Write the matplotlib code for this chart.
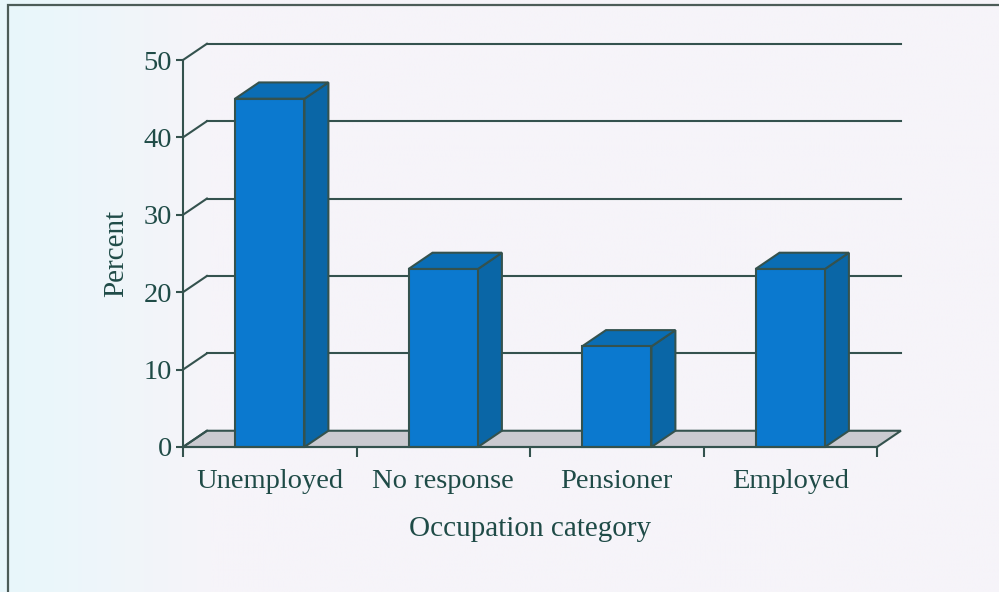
import numpy as np
import matplotlib
matplotlib.use("Agg")
import matplotlib.pyplot as plt
from matplotlib.patches import Polygon, Rectangle

categories = ["Unemployed", "No response", "Pensioner", "Employed"]
percent = [45, 23, 13, 23]
yticks = [0, 10, 20, 30, 40, 50]

ink = "#1f4b47"
edge = "#34524e"
front = "#0b79cf"
side = "#0a66a6"
top = "#0a6db4"
floor = "#cacad0"

# depth of the pseudo-3D box, in data units
dx, dy = 0.138, 2.1
bw = 0.4

plt.rcParams["font.family"] = ["Liberation Serif", "DejaVu Serif"]

fig = plt.figure(figsize=(9.99, 5.92), dpi=100, facecolor="#f6f4f9")

# soft cyan tint down the left edge of the page
bg = fig.add_axes([0, 0, 1, 1], zorder=-10)
grad = np.ones((2, 400, 3))
xs = np.linspace(0, 1, 400)
t = np.clip((xs - 0.01) / 0.2, 0, 1)
c0 = np.array(matplotlib.colors.to_rgb("#e8f7fb"))
c1 = np.array(matplotlib.colors.to_rgb("#f6f4f9"))
grad[:] = (c0[None, :] * (1 - t[:, None]) + c1[None, :] * t[:, None])[None]
bg.imshow(grad, aspect="auto", extent=[0, 1, 0, 1])
bg.set_axis_off()

fig.add_artist(Rectangle((8 / 999, -0.1), 1.2, 0.1 + (592 - 5) / 592,
                         transform=fig.transFigure, fill=False,
                         edgecolor="#4c5c58", linewidth=1.6))

ax = fig.add_axes([183 / 999, 145 / 592, 694 / 999, 387 / 592])
ax.set_xlim(0, 4)
ax.set_ylim(0, 50)
ax.patch.set_visible(False)

n = len(categories)

# floor of the box
ax.add_patch(Polygon([(0, 0), (n, 0), (n + dx, dy), (dx, dy)], closed=True,
                     facecolor=floor, edgecolor=edge, linewidth=1.5,
                     zorder=1, clip_on=False))

# gridlines on the back wall with the slanted bits on the left
for v in yticks:
    ax.plot([0, dx], [v, v + dy], color=edge, lw=1.5, zorder=1.2, clip_on=False)
    if v > 0:
        ax.plot([dx, n + dx], [v + dy, v + dy], color=edge, lw=1.5,
                zorder=1.2, clip_on=False)

centers = np.arange(n) + 0.5
for xc, val in zip(centers, percent):
    x0, x1 = xc - bw / 2, xc + bw / 2
    ax.add_patch(Polygon([(x1, 0), (x1 + dx, dy), (x1 + dx, val + dy), (x1, val)],
                         closed=True, facecolor=side, edgecolor=edge,
                         linewidth=1.5, zorder=3, clip_on=False))
    ax.add_patch(Polygon([(x0, val), (x1, val), (x1 + dx, val + dy), (x0 + dx, val + dy)],
                         closed=True, facecolor=top, edgecolor=edge,
                         linewidth=1.5, zorder=3, clip_on=False))
ax.bar(centers, percent, width=bw, color=front, edgecolor=edge,
       linewidth=1.5, zorder=4, clip_on=False)

for s in ["top", "right"]:
    ax.spines[s].set_visible(False)
for s in ["left", "bottom"]:
    ax.spines[s].set_color(edge)
    ax.spines[s].set_linewidth(1.5)
    ax.spines[s].set_zorder(5)

ax.set_yticks(yticks)
ax.set_xticks(np.arange(n + 1))
ax.set_xticklabels([])
ax.set_xticks(centers, minor=True)
ax.set_xticklabels(categories, minor=True)
ax.tick_params(axis="y", direction="out", length=5, width=1.5, color=edge,
               labelcolor=ink, labelsize=20.5, pad=3)
ax.tick_params(axis="x", which="major", direction="out", length=7, width=1.5,
               color=edge)
ax.tick_params(axis="x", which="minor", length=0, labelcolor=ink,
               labelsize=20.5, pad=16)

ax.set_xlabel("Occupation category", fontsize=21, color=ink, labelpad=16)
ax.set_ylabel("Percent", fontsize=21, color=ink, labelpad=10)

fig.savefig("out.png", dpi=100, facecolor=fig.get_facecolor())
